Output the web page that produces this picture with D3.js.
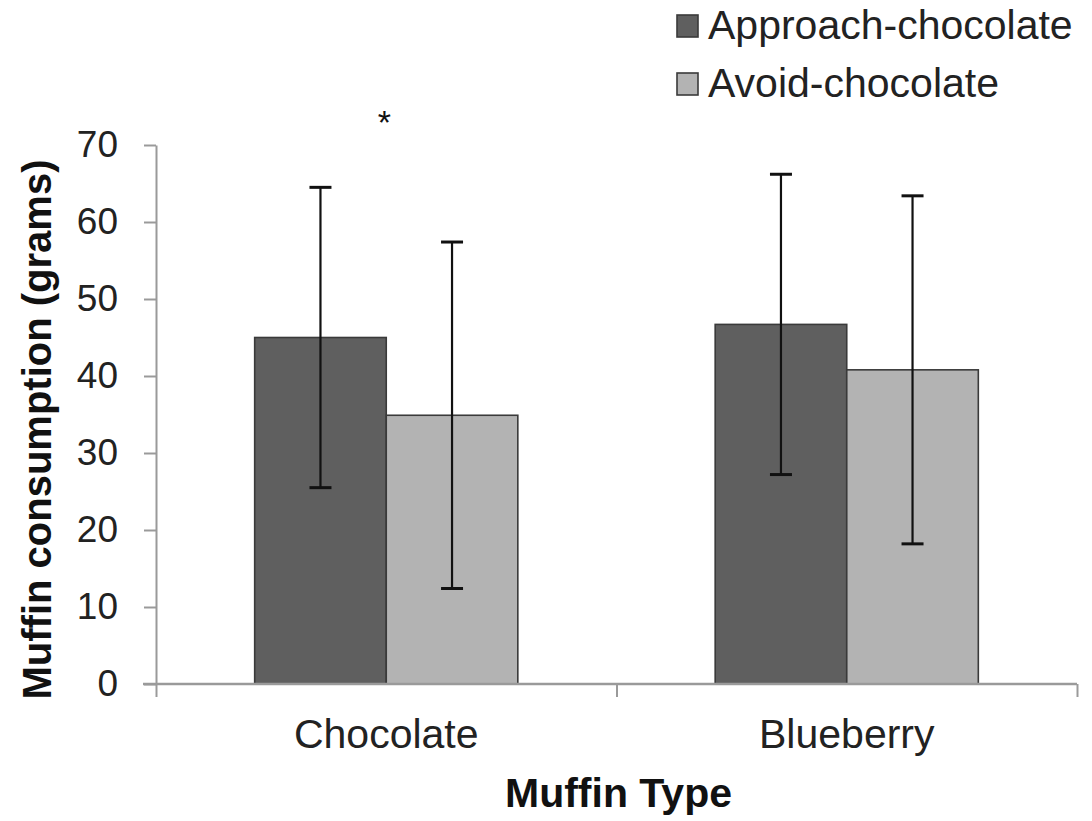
<!DOCTYPE html>
<html>
<head>
<meta charset="utf-8">
<script src="https://cdn.jsdelivr.net/npm/d3@7"></script>
<style>
  html, body { margin: 0; padding: 0; background: #ffffff; }
  svg { display: block; font-family: "Liberation Sans", Arial, Helvetica, sans-serif; }
</style>
</head>
<body>
<svg id="chart" width="1092" height="821"></svg>
<script>
// Muffin consumption by muffin type and group
const categories = ["Chocolate", "Blueberry"];
const seriesNames = ["Approach-chocolate", "Avoid-chocolate"];
const approachMeans = [45.0, 46.7];
const avoidMeans = [34.9, 40.8];
const approachErr = [19.5, 19.5];
const avoidErr = [22.5, 22.6];
const yTicks = [0, 10, 20, 30, 40, 50, 60, 70];
const significance = ["*", ""];

const seriesColors = ["#5f5f5f", "#b3b3b3"];

const svg = d3.select("#chart");

const plot = { left: 156, right: 1077, top: 145, bottom: 684 };

const y = d3.scaleLinear().domain([0, 70]).range([plot.bottom, plot.top]);
const x = d3.scaleBand().domain(categories).range([plot.left, plot.right]).padding(0);
const xs = d3.scaleBand().domain(seriesNames).range([0, x.bandwidth()])
  .paddingInner(0).paddingOuter(0.75);

const rows = categories.map((c, i) => [
  { cat: c, series: seriesNames[0], value: approachMeans[i], err: approachErr[i] },
  { cat: c, series: seriesNames[1], value: avoidMeans[i], err: avoidErr[i] }
]).flat();

// Y axis
const yAxis = svg.append("g")
  .attr("transform", `translate(${plot.left},0)`)
  .call(d3.axisLeft(y).tickValues(yTicks).tickSize(12).tickSizeOuter(0).tickPadding(26));
yAxis.select(".domain").attr("stroke", "#9a9a9a").attr("stroke-width", 2);
yAxis.selectAll(".tick line").attr("stroke", "#9a9a9a").attr("stroke-width", 2);
yAxis.selectAll(".tick text")
  .attr("font-size", 37).attr("fill", "#222");

// Bars
svg.append("g").selectAll("rect").data(rows).join("rect")
  .attr("x", d => x(d.cat) + xs(d.series))
  .attr("y", d => y(d.value))
  .attr("width", xs.bandwidth())
  .attr("height", d => y(0) - y(d.value))
  .attr("fill", d => seriesColors[seriesNames.indexOf(d.series)])
  .attr("stroke", "#3a3a3a")
  .attr("stroke-width", 1.6);

// X axis line with boundary ticks
const xb = d3.scaleLinear().domain([0, categories.length]).range([plot.left, plot.right]);
const xAxis = svg.append("g")
  .attr("transform", `translate(0,${plot.bottom})`)
  .call(d3.axisBottom(xb).tickValues(d3.range(categories.length + 1)).tickFormat("").tickSize(13).tickSizeOuter(0));
xAxis.select(".domain").attr("stroke", "#9a9a9a").attr("stroke-width", 2.5)
  .attr("d", `M${plot.left - 13},0H${plot.right}`);
xAxis.selectAll(".tick line").attr("stroke", "#9a9a9a").attr("stroke-width", 2);

// Category labels
const xLab = svg.append("g")
  .attr("transform", `translate(0,${plot.bottom})`)
  .call(d3.axisBottom(x).tickSize(0).tickPadding(35));
xLab.select(".domain").remove();
xLab.selectAll(".tick text").attr("font-size", 41).attr("fill", "#222");

// Error bars
const capW = 22;
const eb = svg.append("g").selectAll("g").data(rows).join("g")
  .attr("transform", d => `translate(${x(d.cat) + xs(d.series) + xs.bandwidth() / 2},0)`);
eb.append("line")
  .attr("x1", 0).attr("x2", 0)
  .attr("y1", d => y(d.value + d.err)).attr("y2", d => y(d.value - d.err))
  .attr("stroke", "#111").attr("stroke-width", 2.2);
eb.append("line")
  .attr("x1", -capW / 2).attr("x2", capW / 2)
  .attr("y1", d => y(d.value + d.err)).attr("y2", d => y(d.value + d.err))
  .attr("stroke", "#111").attr("stroke-width", 3);
eb.append("line")
  .attr("x1", -capW / 2).attr("x2", capW / 2)
  .attr("y1", d => y(d.value - d.err)).attr("y2", d => y(d.value - d.err))
  .attr("stroke", "#111").attr("stroke-width", 3);

// Significance marker
svg.append("g").selectAll("text").data(categories).join("text")
  .attr("x", d => x(d) + x.bandwidth() / 2 - 2)
  .attr("y", 134)
  .attr("text-anchor", "middle")
  .attr("font-size", 34)
  .attr("fill", "#111")
  .text((d, i) => significance[i]);

// Axis titles
svg.append("text")
  .attr("transform", `translate(51,${(plot.top + plot.bottom) / 2 + 15}) rotate(-90)`)
  .attr("text-anchor", "middle")
  .attr("font-size", 40)
  .attr("font-weight", "bold")
  .attr("fill", "#111")
  .text("Muffin consumption (grams)");

svg.append("text")
  .attr("x", (plot.left + plot.right) / 2 + 2)
  .attr("y", 807)
  .attr("text-anchor", "middle")
  .attr("font-size", 41)
  .attr("font-weight", "bold")
  .attr("fill", "#111")
  .text("Muffin Type");

// Legend
const legend = svg.append("g").attr("transform", "translate(677,0)");
const li = legend.selectAll("g").data(seriesNames).join("g")
  .attr("transform", (d, i) => `translate(0,${15 + i * 58})`);
li.append("rect")
  .attr("x", 0).attr("y", 0).attr("width", 21).attr("height", 22)
  .attr("fill", (d, i) => seriesColors[i])
  .attr("stroke", "#3a3a3a").attr("stroke-width", 1.6);
li.append("text")
  .attr("x", 31).attr("y", 24)
  .attr("font-size", 41)
  .attr("fill", "#222")
  .text(d => d);
</script>
</body>
</html>
